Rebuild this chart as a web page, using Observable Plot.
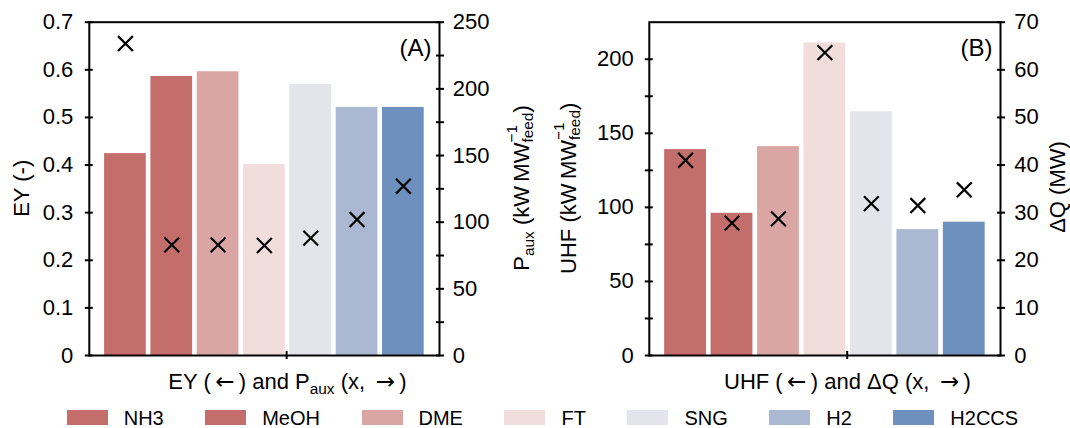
<!DOCTYPE html>
<html><head><meta charset="utf-8">
<script src="https://cdn.jsdelivr.net/npm/d3@7"></script>
<script src="https://cdn.jsdelivr.net/npm/@observablehq/plot@0.6"></script>
<style>
body{margin:0;background:#fff;font-family:"Liberation Sans",Arial,sans-serif;}
#wrap{position:relative;width:1070px;height:428px;overflow:hidden;background:#fff;}
#pa{position:absolute;left:0;top:0;}
#pb{position:absolute;left:535px;top:0;}
#legend{position:absolute;left:66.7px;top:407.5px;display:flex;gap:41.5px;font-size:20px;line-height:20px;color:#000;white-space:nowrap;}
.item{display:flex;align-items:center;height:20px;}
.sw{width:41px;height:15px;margin-right:16px;}
</style></head><body><div id="wrap"><div id="pa"></div><div id="pb"></div><div id="legend"></div></div>
<script>
const fuels = ["NH3","MeOH","DME","FT","SNG","H2","H2CCS"];
const colors = ["#c46e6c","#c46e6c","#daa6a4","#f2dddd","#e4e5ea","#aab9d1","#6e90be"];
const ey = [0.424,0.586,0.596,0.401,0.569,0.521,0.521];
const paux = [234,83,83,82.5,88,102,127];
const uhf = [139,96,141,211,164.5,85,90];
const dq = [41,27.8,28.7,63.6,31.9,31.5,34.8];
const eyTicks = [0,0.1,0.2,0.3,0.4,0.5,0.6,0.7];
const pauxTicks = [0,25,50,75,100,125,150,175,200,225,250];
const uhfTicks = [0,25,50,75,100,125,150,175,200];
const dqTicks = [0,10,20,30,40,50,60,70];
const xTicks = [3.48];

const FONT = '"Liberation Sans", Arial, sans-serif';
const ARROWFONT = '"DejaVu Sans", sans-serif';

function panel({barVals, markVals, yMax, y2Max, leftTicks, leftFmt, rightTicks, rightStep, marginLeft, marginRight, tag, leftPad, rightPad}) {
  const k = yMax / y2Max;
  const data = fuels.map((f, i) => ({fuel: f, i, bar: barVals[i], mark: markVals[i] * k}));
  return Plot.plot({
    width: 535, height: 400,
    marginTop: 21.7, marginBottom: 45, marginLeft, marginRight,
    x: {type: "linear", domain: [-0.78, 6.78]},
    y: {domain: [0, yMax]},
    color: {domain: fuels, range: colors},
    style: {fontFamily: FONT, fontSize: "22px", color: "black", background: "white", overflow: "visible"},
    marks: [
      Plot.rectY(data, {x1: d => d.i - 0.45, x2: d => d.i + 0.45, y1: 0, y2: "bar", fill: "fuel"}),
      Plot.dot(data, {x: "i", y: "mark", symbol: "times", r: 6.8, stroke: "black", strokeWidth: 2.2}),
      Plot.frame({stroke: "black", strokeWidth: 2}),
      Plot.axisY(leftTicks, {anchor: "left", tickSize: 8, dx: 4, tickPadding: leftPad, strokeWidth: 2, tickFormat: leftFmt, label: null}),
      Plot.axisY(rightTicks.map(v => v * k), {anchor: "right", tickSize: 8, dx: -4, tickPadding: rightPad, strokeWidth: 2,
        tickFormat: d => { const v = Math.round(d / k); return v % rightStep === 0 ? String(v) : ""; }, label: null}),
      Plot.axisX(xTicks, {anchor: "bottom", tickSize: 8, dy: -4, strokeWidth: 2, tickFormat: () => "", label: null}),
      Plot.text([tag], {frameAnchor: "top-right", textAnchor: "end", lineAnchor: "bottom", dx: -8, dy: 33.5, fontSize: 24, fill: "black"})
    ]
  });
}

const svgA = panel({barVals: ey, markVals: paux, yMax: 0.7, y2Max: 250, leftTicks: eyTicks,
  leftFmt: d => d === 0 ? "0" : d.toFixed(1), rightTicks: pauxTicks, rightStep: 50,
  marginLeft: 88.8, marginRight: 96, tag: "(A)", leftPad: 12, rightPad: 9.3});
const svgB = panel({barVals: uhf, markVals: dq, yMax: 225, y2Max: 70, leftTicks: uhfTicks,
  leftFmt: d => d % 50 === 0 ? String(d) : "", rightTicks: dqTicks, rightStep: 10,
  marginLeft: 113.8, marginRight: 70, tag: "(B)", leftPad: 11.5, rightPad: 9.8});
document.getElementById("pa").appendChild(svgA);
document.getElementById("pb").appendChild(svgB);

// text helpers
function seg(t, text, opts = {}) {
  const s = t.append("tspan").text(text);
  if (opts.size) s.attr("font-size", opts.size);
  if (opts.dy) s.attr("dy", opts.dy);
  if (opts.dx) s.attr("dx", opts.dx);
  if (opts.family) s.attr("font-family", opts.family);
  return s;
}
function arrow(t, ch) { return seg(t, ch, {family: ARROWFONT, size: 23}); }
function unitTail(t) {
  // " (kW MW_feed^-1)"
  const f = seg(t, "feed", {size: 15.4, dy: 4});
  const wf = f.node().getComputedTextLength();
  const m = seg(t, "\u22121", {size: 15.4, dy: -16});
  m.attr("dx", -wf);
  const wm = m.node().getComputedTextLength();
  seg(t, ")", {dy: 12, dx: wf - wm});
}
function title(svg, bx, cy, rotate, build) {
  const g = d3.select(svg).append("g").attr("font-family", FONT).attr("font-size", 22).attr("fill", "black");
  const t = g.append("text").attr("x", 0).attr("y", 0);
  build(t);
  const bb = t.node().getBBox();
  const c = bb.x + bb.width / 2;
  if (rotate) g.attr("transform", `translate(${bx},${cy}) rotate(-90) translate(${-c},0)`);
  else g.attr("transform", `translate(${bx - c},${cy})`);
}

// Panel A titles
title(svgA, 28.5, 188.3, true, t => seg(t, "EY (-)"));
title(svgA, 528.6, 188, true, t => {
  seg(t, "P"); seg(t, "aux", {size: 15.4, dy: 5}); seg(t, " (kW\u2009MW", {dy: -5}); unitTail(t);
});
title(svgA, 287.5, 389, false, t => {
  seg(t, "EY (\u2009"); arrow(t, "\u2190"); seg(t, "\u2009) and P");
  seg(t, "aux", {size: 15.4, dy: 5}); seg(t, " (x,\u2009 ", {dy: -5}); arrow(t, "\u2192"); seg(t, "\u2009)");
});
// Panel B titles
title(svgB, 40.8, 188.3, true, t => { seg(t, "UHF (kW\u2009MW"); unitTail(t); });
title(svgB, 529.5, 187, true, t => seg(t, "\u0394Q (MW)"));
title(svgB, 312.5, 389, false, t => {
  seg(t, "UHF (\u2009"); arrow(t, "\u2190"); seg(t, "\u2009) and \u0394Q (x,\u2009 "); arrow(t, "\u2192"); seg(t, "\u2009)");
});

// Legend
const lg = d3.select("#legend");
fuels.forEach((f, i) => {
  const it = lg.append("div").attr("class", "item");
  it.append("div").attr("class", "sw").style("background", colors[i]);
  it.append("span").text(f);
});
</script></body></html>
